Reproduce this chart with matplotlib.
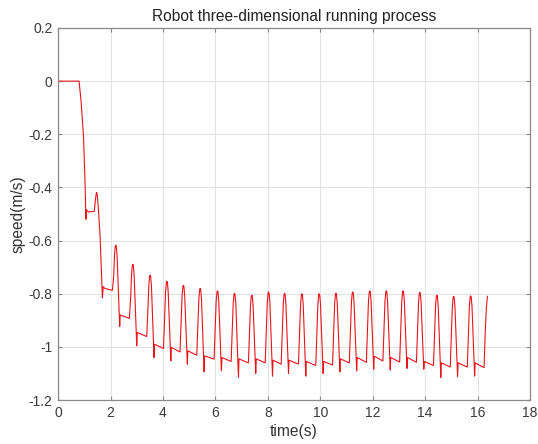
import matplotlib
matplotlib.use("Agg")
import matplotlib.pyplot as plt

plt.rcParams['font.family'] = ['Liberation Sans', 'DejaVu Sans']

# robot speed trace; after the start-up each row is one step:
# plateau end, rise, rounded peak, fall, trough, rebound
time_s = [
  0.00, 0.80, 0.88, 0.97, 1.03, 1.06, 1.08, 1.16,
  1.38, 1.42, 1.45, 1.47, 1.49, 1.53, 1.60, 1.69, 1.72, 1.78,
  2.07, 2.12, 2.15, 2.18, 2.20, 2.22, 2.25, 2.28, 2.35, 2.37,
  2.72, 2.77, 2.80, 2.83, 2.85, 2.87, 2.90, 2.93, 3.00, 3.02,
  3.38, 3.43, 3.46, 3.49, 3.51, 3.53, 3.56, 3.59, 3.66, 3.68,
  4.02, 4.07, 4.10, 4.13, 4.15, 4.17, 4.20, 4.23, 4.30, 4.32,
  4.65, 4.70, 4.73, 4.76, 4.78, 4.80, 4.83, 4.86, 4.93, 4.95,
  5.29, 5.34, 5.37, 5.40, 5.42, 5.44, 5.47, 5.50, 5.57, 5.59,
  5.95, 6.00, 6.03, 6.06, 6.08, 6.10, 6.13, 6.16, 6.23, 6.25,
  6.60, 6.65, 6.68, 6.71, 6.73, 6.75, 6.78, 6.81, 6.88, 6.90,
  7.26, 7.31, 7.34, 7.37, 7.39, 7.41, 7.44, 7.47, 7.54, 7.56,
  7.90, 7.95, 7.98, 8.01, 8.03, 8.05, 8.08, 8.11, 8.18, 8.20,
  8.51, 8.56, 8.59, 8.62, 8.64, 8.66, 8.69, 8.72, 8.79, 8.81,
  9.17, 9.22, 9.25, 9.28, 9.30, 9.32, 9.35, 9.38, 9.45, 9.47,
  9.83, 9.88, 9.91, 9.94, 9.96, 9.98, 10.01, 10.04, 10.11, 10.13,
  10.47, 10.52, 10.55, 10.58, 10.60, 10.62, 10.65, 10.68, 10.75, 10.77,
  11.11, 11.16, 11.19, 11.22, 11.24, 11.26, 11.29, 11.32, 11.39, 11.41,
  11.76, 11.81, 11.84, 11.87, 11.89, 11.91, 11.94, 11.97, 12.04, 12.06,
  12.39, 12.44, 12.47, 12.50, 12.52, 12.54, 12.57, 12.60, 12.67, 12.69,
  13.03, 13.08, 13.11, 13.14, 13.16, 13.18, 13.21, 13.24, 13.31, 13.33,
  13.67, 13.72, 13.75, 13.78, 13.80, 13.82, 13.85, 13.88, 13.95, 13.97,
  14.32, 14.37, 14.40, 14.43, 14.45, 14.47, 14.50, 14.53, 14.60, 14.62,
  14.96, 15.01, 15.04, 15.07, 15.09, 15.11, 15.14, 15.17, 15.24, 15.26,
  15.61, 15.66, 15.69, 15.72, 15.74, 15.76, 15.79, 15.82, 15.89, 15.91,
  16.25, 16.30, 16.34, 16.38,
]
speed = [
  0.000, 0.000, -0.080, -0.210, -0.390, -0.520, -0.484, -0.492,
  -0.490, -0.450, -0.425, -0.419, -0.425, -0.470, -0.580, -0.815, -0.773, -0.780,
  -0.787, -0.737, -0.657, -0.622, -0.617, -0.622, -0.657, -0.737, -0.923, -0.880,
  -0.893, -0.809, -0.729, -0.694, -0.689, -0.694, -0.729, -0.809, -0.996, -0.946,
  -0.961, -0.850, -0.770, -0.735, -0.730, -0.735, -0.770, -0.850, -1.040, -0.990,
  -1.006, -0.873, -0.793, -0.758, -0.753, -0.758, -0.793, -0.873, -1.053, -1.002,
  -1.019, -0.888, -0.808, -0.773, -0.768, -0.773, -0.808, -0.888, -1.065, -1.015,
  -1.031, -0.900, -0.820, -0.785, -0.780, -0.785, -0.820, -0.900, -1.094, -1.034,
  -1.046, -0.909, -0.829, -0.794, -0.789, -0.794, -0.829, -0.909, -1.090, -1.040,
  -1.055, -0.918, -0.838, -0.803, -0.798, -0.803, -0.838, -0.918, -1.115, -1.045,
  -1.060, -0.925, -0.845, -0.810, -0.805, -0.810, -0.845, -0.925, -1.100, -1.045,
  -1.060, -0.913, -0.833, -0.798, -0.793, -0.798, -0.833, -0.913, -1.110, -1.050,
  -1.065, -0.918, -0.838, -0.803, -0.798, -0.803, -0.838, -0.918, -1.100, -1.050,
  -1.065, -0.920, -0.840, -0.805, -0.800, -0.805, -0.840, -0.920, -1.110, -1.055,
  -1.070, -0.920, -0.840, -0.805, -0.800, -0.805, -0.840, -0.920, -1.100, -1.055,
  -1.068, -0.918, -0.838, -0.803, -0.798, -0.803, -0.838, -0.918, -1.094, -1.045,
  -1.060, -0.913, -0.833, -0.798, -0.793, -0.798, -0.833, -0.913, -1.090, -1.040,
  -1.058, -0.909, -0.829, -0.794, -0.789, -0.794, -0.829, -0.909, -1.084, -1.035,
  -1.053, -0.909, -0.829, -0.794, -0.789, -0.794, -0.829, -0.909, -1.087, -1.040,
  -1.057, -0.909, -0.829, -0.794, -0.789, -0.794, -0.829, -0.909, -1.081, -1.040,
  -1.058, -0.915, -0.835, -0.800, -0.795, -0.800, -0.835, -0.915, -1.084, -1.055,
  -1.070, -0.925, -0.845, -0.810, -0.805, -0.810, -0.845, -0.925, -1.115, -1.060,
  -1.076, -0.930, -0.850, -0.815, -0.810, -0.815, -0.850, -0.930, -1.112, -1.060,
  -1.076, -0.928, -0.848, -0.813, -0.808, -0.813, -0.848, -0.928, -1.110, -1.060,
  -1.078, -0.930, -0.850, -0.810,
]

x_ticks = [0, 2, 4, 6, 8, 10, 12, 14, 16, 18]
y_ticks = [0.2, 0, -0.2, -0.4, -0.6, -0.8, -1, -1.2]
y_tick_labels = ['0.2', '0', '-0.2', '-0.4', '-0.6', '-0.8', '-1', '-1.2']

fig = plt.figure(figsize=(5.38, 4.44), dpi=100)
ax = fig.add_axes([0.108, 0.099, 0.877, 0.838])

ax.plot(time_s, speed, color='#e8141a', linewidth=0.8)

ax.set_xlim(0, 18)
ax.set_ylim(-1.2, 0.2)
ax.set_xticks(x_ticks)
ax.set_yticks(y_ticks)
ax.set_yticklabels(y_tick_labels)

ax.grid(True, color='#e3e3e3', linewidth=0.8)
ax.set_axisbelow(True)
for sp in ax.spines.values():
  sp.set_color('#8a8a8a')
  sp.set_linewidth(0.9)
ax.tick_params(direction='in', length=3, width=0.8, color='#8a8a8a',
               top=True, right=True, labelsize=10, labelcolor='#3a3a3a', pad=4)

ax.set_title('Robot three-dimensional running process', fontsize=11.2, color='#222222', pad=5)
ax.set_xlabel('time(s)', fontsize=11.2, color='#333333', labelpad=3)
ax.set_ylabel('speed(m/s)', fontsize=11.2, color='#333333', labelpad=2)

fig.savefig('out.png', dpi=100)
